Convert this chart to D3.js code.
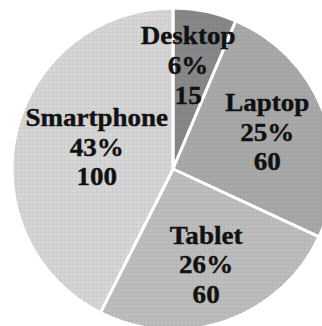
<!DOCTYPE html>
<html>
<head>
<meta charset="utf-8">
<script src="https://cdn.jsdelivr.net/npm/d3@7"></script>
<style>
  body { margin: 0; background: #fff; }
  text { font-family: "Liberation Serif", "Times New Roman", serif; font-weight: bold; }
</style>
</head>
<body>
<div id="pie-chart"></div>
<script>
// chart data
const categories = ["Desktop", "Laptop", "Tablet", "Smartphone"];
const counts = [15, 60, 60, 100];
const percentLabels = ["6%", "25%", "26%", "43%"];
const colors = ["#868686", "#a6a6a6", "#bababa", "#d2d2d2"];

// dimensions
const width = 322, height = 326;
const cx = 173, cy = 169, radius = 161;
const labelRadius = 101;
const lineGap = 31;
// small nudges so the labels sit roughly where the original put them
const nudge = [[-5, -4], [0, 0], [0, 1], [22, 2]];

const svg = d3.select("#pie-chart")
    .append("svg")
    .attr("width", width)
    .attr("height", height);

// subtle dotted texture on top of the flat fills
const defs = svg.append("defs");
colors.forEach((c, i) => {
    const p = defs.append("pattern")
        .attr("id", "tex" + i)
        .attr("width", 4)
        .attr("height", 4)
        .attr("patternUnits", "userSpaceOnUse");
    p.append("rect").attr("width", 4).attr("height", 4).attr("fill", c);
    p.append("rect").attr("x", 1).attr("y", 1).attr("width", 1).attr("height", 1)
        .attr("fill", d3.color(c).brighter(0.25));
    p.append("rect").attr("x", 3).attr("y", 3).attr("width", 1).attr("height", 1)
        .attr("fill", d3.color(c).darker(0.15));
});

const g = svg.append("g")
    .attr("transform", `translate(${cx},${cy})`);

const pie = d3.pie().sort(null).value(d => d);
const arcs = pie(counts);

const arc = d3.arc().innerRadius(0).outerRadius(radius);
const labelArc = d3.arc().innerRadius(labelRadius).outerRadius(labelRadius);

g.selectAll("path")
    .data(arcs)
    .enter()
    .append("path")
    .attr("d", arc)
    .attr("fill", (d, i) => `url(#tex${i})`)
    .attr("stroke", "#fff")
    .attr("stroke-width", 3)
    .attr("stroke-linejoin", "round");

// three-line labels: name, percent, value (anchored on the middle baseline)
const labels = g.selectAll("text.label")
    .data(arcs)
    .enter()
    .append("text")
    .attr("class", "label")
    .attr("text-anchor", "middle")
    .attr("font-size", 26)
    .attr("fill", "#111")
    .attr("stroke", "#111")
    .attr("stroke-width", 0.4)
    .attr("transform", (d, i) => {
        const [x, y] = labelArc.centroid(d);
        return `translate(${x + nudge[i][0]},${y + 8 + nudge[i][1]}) scale(1.04,0.96)`;
    });

labels.append("tspan").attr("x", 0).attr("y", -lineGap).text((d, i) => categories[i]);
labels.append("tspan").attr("x", 0).attr("y", 0).text((d, i) => percentLabels[i]);
labels.append("tspan").attr("x", 0).attr("y", lineGap).text((d, i) => counts[i]);
</script>
</body>
</html>
